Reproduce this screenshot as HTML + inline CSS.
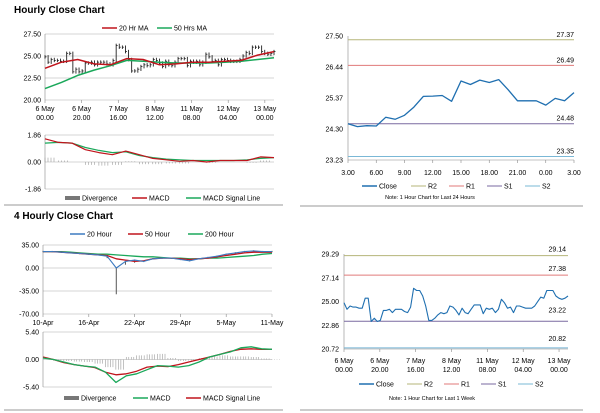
<!DOCTYPE html>
<html><head><meta charset="utf-8"><style>
html,body{margin:0;padding:0;background:#fff;width:600px;height:413px;overflow:hidden}
svg{display:block;font-family:"Liberation Sans",sans-serif}
</style></head><body>
<svg id="c" width="600" height="413" viewBox="0 0 600 413" xmlns="http://www.w3.org/2000/svg"></svg>
<script>
// ===== Data =====
const weekXLabels1 = ["6 May","6 May","7 May","8 May","11 May","12 May","13 May"];
const weekXLabels2 = ["00.00","20.00","16.00","12.00","08.00","04.00","00.00"];
const weekClose = [24.9,24.3,24.6,24.5,24.5,24.4,24.4,25.3,25.3,23.2,23.5,23.2,23.3,24.2,24.2,24.3,24.0,24.3,24.3,24.3,24.1,24.0,24.5,26.2,26.0,26.0,25.5,24.6,23.3,23.3,23.5,23.8,24.0,23.9,24.0,24.6,24.5,24.2,23.8,24.4,24.0,23.9,24.3,24.7,24.7,24.7,23.9,24.4,24.3,24.4,24.0,24.3,25.2,24.9,24.4,24.5,24.0,24.6,24.6,24.5,24.4,24.4,24.4,24.6,25.0,25.4,25.3,26.0,26.0,26.0,25.5,25.3,25.2,25.3,25.5];
const ma20 = [23.6,24.3,24.6,24.1,24.0,24.7,24.6,24.0,24.1,24.3,24.3,24.4,24.5,25.1,25.5];
const ma50 = [21.3,22.0,22.8,23.4,23.9,24.5,24.4,24.3,24.2,24.2,24.2,24.3,24.4,24.6,24.8];
const hMacd = [1.6,1.35,1.3,0.85,0.65,0.5,0.75,0.5,0.25,0.15,0.05,0.1,0.0,0.1,0.1,0.1,0.35,0.3];
const hSignal = [1.3,1.35,1.3,1.0,0.8,0.65,0.7,0.45,0.3,0.2,0.15,0.1,0.1,0.1,0.1,0.15,0.25,0.3];
const hDiv = [0.3,0.1,0,-0.2,-0.25,-0.2,0.05,-0.15,-0.15,-0.1,-0.1,0,-0.05,0,0,-0.05,0.1,0];
const dayXLabels = ["3.00","6.00","9.00","12.00","15.00","18.00","21.00","0.00","3.00"];
const dayClose = [24.48,24.38,24.41,24.40,24.70,24.63,24.77,25.05,25.42,25.43,25.45,25.25,25.95,25.83,25.98,25.90,26.00,25.65,25.27,25.27,25.27,25.12,25.35,25.27,25.55];
const dayLevels = [27.37,26.49,24.48,23.35];
const weekLevels = [29.14,27.38,23.22,20.82];
const levelNames = ["R2","R1","S1","S2"];
const fourXLabels = ["10-Apr","16-Apr","22-Apr","29-Apr","5-May","11-May"];
const h20 = [25,25,24,23,22,21,20,18,0,10,12,10,14,15,15,13,11,14,16,18,21,23,25,26,25,25];
const h50 = [25,25,24,23,22,21,20,19,14,12,10,11,14,15,15,14,13,14,15,17,19,21,23,24,24,24];
const h200 = [25,25,25,24,23,22,21,21,20,19,18,17,17,16,15,15,14,14,15,15,16,17,18,19,21,22];
const fourLow = [24,24,23,22,21,20,19,15,-40,5,8,9,13,14,14,12,10,13,15,17,20,22,24,25,24,24];
const fMacd = [0.3,0,-0.5,-1,-1.3,-1.5,-2.5,-4.5,-3.2,-2.8,-2,-1.2,-1.3,-1.5,-1.2,-0.5,0.5,1,1.5,2.3,2.5,2.1,2.0];
const fSignal = [0.5,0,-0.6,-1,-1.3,-1.6,-2.5,-3,-2.8,-2.3,-1.5,-1.3,-1.4,-1,-0.5,0,0.5,1,1.6,2,2.1,2.0,2.0];
const fDiv = [0,-0.2,-0.3,-0.4,-0.5,-0.8,-1.5,-2,0.5,0.8,1,1.1,0.3,-0.3,-0.2,0.3,0.6,0.8,0.6,0.6,0.5,0.2,0.1];

// ===== Helpers =====
const svg = document.getElementById('c');
const NS = "http://www.w3.org/2000/svg";
function mk(tag, attrs, parent){const e=document.createElementNS(NS,tag);for(const k in attrs)e.setAttribute(k,attrs[k]);(parent||svg).appendChild(e);return e;}
function scale(d0,d1,p0,p1){return v=>p0+(v-d0)/(d1-d0)*(p1-p0);}
function txt(x,y,s,size,anchor,weight,parent){const t=mk('text',{x:x,y:y,'font-size':size,'text-anchor':anchor||'start','font-weight':weight||'normal',fill:'#000'},parent);t.textContent=s;return t;}
function poly(vals,xf,yf,color,w,parent){const pts=vals.map((v,i)=>xf(i,vals.length).toFixed(1)+','+yf(v).toFixed(1)).join(' ');return mk('polyline',{points:pts,fill:'none',stroke:color,'stroke-width':w,'stroke-linejoin':'round'},parent);}
function hl(x1,x2,y,color,w,parent){return mk('line',{x1:x1,x2:x2,y1:y,y2:y,stroke:color,'stroke-width':w||0.6},parent);}
function vl(x,y1,y2,color,w,parent){return mk('line',{x1:x,x2:x,y1:y1,y2:y2,stroke:color,'stroke-width':w||0.6},parent);}
function legendLine(x,y,color,label,parent,w){hl(x,x+15,y,color,w||1.5,parent);txt(x+17,y+2.5,label,7,'start','normal',parent);}
function legendBar(x,y,label,parent){mk('rect',{x:x,y:y-2,width:15,height:4,fill:'#777'},parent);txt(x+17,y+2.5,label,7,'start','normal',parent);}

// Titles and separators
let t=txt(14,13,"Hourly Close Chart",10,'start','bold');


t=txt(14,219,"4 Hourly Close Chart",10,'start','bold');


let s=hl(4,283,205,'#999',1);

s=hl(300,583,206,'#999',1);

s=hl(4,283,410,'#999',1);

s=hl(300,583,410,'#999',1);


// ===== Panel A: hourly close with MAs =====
(function(){
  const g=mk('g',{});
  
  
  const X0=45,X1=274,y=scale(20,27.5,100,34);
  const xi=(i,n)=>X0+i/(n-1)*(X1-X0);
  [27.5,25,22.5,20].forEach(v=>{hl(X0,X1,y(v),'#aaa',0.6,g);txt(X0-4,y(v)+2.5,v.toFixed(2),7,'end','normal',g);});
  vl(X0,34,100,'#888',0.6,g);
  weekXLabels1.forEach((l,k)=>{const x=X0+k*20/125*(X1-X0);vl(x,100,103,'#888',0.6,g);txt(x,111,l,7,'middle','normal',g);txt(x,120,weekXLabels2[k],7,'middle','normal',g);});
  const bars=mk('g',{},g);
  
  weekClose.forEach((v,i)=>{const p=i?weekClose[i-1]:v;const x=xi(i,weekClose.length);vl(x,y(Math.max(p,v)+0.2),y(Math.min(p,v)-0.2),'#222',0.9,bars);hl(x,x+1.5,y(v),'#222',0.8,bars);});
  const l1=poly(ma50,xi,y,'#1aa85a',1.5,g);
  
  const l2=poly(ma20,xi,y,'#c0141c',1.5,g);
  
  legendLine(102,28,'#c0141c','20 Hr MA',g);
  legendLine(157,28,'#1aa85a','50 Hrs MA',g);
  // MACD
  const m=mk('g',{});
  
  
  const ym=scale(-1.86,1.86,189,135);
  [[1.86,'1.86'],[0,'0.00'],[-1.86,'-1.86']].forEach(([v,l])=>{hl(X0,X1,ym(v),'#aaa',0.6,m);txt(X0-4,ym(v)+2.5,l,7,'end','normal',m);});
  vl(X0,135,189,'#888',0.6,m);
  hDiv.forEach((v,i)=>{const x=xi(i,hDiv.length);for(let j=0;j<4;j++){vl(x+j*3,ym(0),ym(v),'#999',0.6,m);}});
  const a=poly(hSignal,xi,ym,'#1aa85a',1.2,m);
  
  const b=poly(hMacd,xi,ym,'#c0141c',1.2,m);
  
  legendBar(65,198,'Divergence',m);
  legendLine(132,198,'#c0141c','MACD',m);
  legendLine(186,198,'#1aa85a','MACD Signal Line',m);
})();

// ===== Panel B: last 24 hours =====
(function(){
  const g=mk('g',{});
  
  
  const X0=348,X1=574,y=scale(23.23,27.5,160,36);
  const xi=(i,n)=>X0+i/(n-1)*(X1-X0);
  ['27.50','26.44','25.37','24.30','23.23'].forEach(l=>txt(X0-5,y(+l)+2.5,l,7,'end','normal',g));
  vl(X0,36,160,'#888',0.6,g);hl(X0,X1,160,'#888',0.6,g);
  dayXLabels.forEach((l,k)=>{const x=X0+k*(X1-X0)/8;vl(x,160,163,'#888',0.6,g);txt(x,175,l,7,'middle','normal',g);});
  const cols=['#b5b57a','#e07a7a','#7a6aa0','#7ab8d6'];
  dayLevels.forEach((v,k)=>{const ln=hl(X0,X1,y(v),cols[k],1,g);txt(X1,y(v)-3,v.toFixed(2),7,'end','normal',g);});
  const c=poly(dayClose,xi,y,'#1f6fb0',1.3,g);
  
  legendLine(362,186,'#1f6fb0','Close',g);
  legendLine(411,186,cols[0],'R2',g,1);
  legendLine(449,186,cols[1],'R1',g,1);
  legendLine(487,186,cols[2],'S1',g,1);
  legendLine(525,186,cols[3],'S2',g,1);
  const n=txt(430,199,'Note: 1 Hour Chart for Last 24 Hours',5.5,'middle','normal',g);
  
})();

// ===== Panel C: 4 hourly =====
(function(){
  const g=mk('g',{});
  
  
  const X0=43,X1=272,y=scale(-70,35,314,245);
  const xi=(i,n)=>X0+i/(n-1)*(X1-X0);
  [[35,'35.00'],[0,'0.00'],[-35,'-35.00'],[-70,'-70.00']].forEach(([v,l])=>{hl(X0,X1,y(v),'#aaa',0.6,g);txt(X0-4,y(v)+2.5,l,7,'end','normal',g);});
  vl(X0,245,314,'#888',0.6,g);
  fourXLabels.forEach((l,k)=>{const x=X0+k*(X1-X0)/5;vl(x,314,317,'#888',0.6,g);txt(x,325,l,7,'middle','normal',g);});
  const bars=mk('g',{},g);
  
  fourLow.forEach((v,i)=>{const x=xi(i,fourLow.length);vl(x,y(h20[i]+1),y(v),'#555',1,bars);});
  const a=poly(h200,xi,y,'#1aa85a',1.3,g);
  
  const b=poly(h50,xi,y,'#c0141c',1.3,g);
  
  const c=poly(h20,xi,y,'#3c7ac0',1.1,g);
  
  legendLine(70,234,'#3c7ac0','20 Hour',g);
  legendLine(128,234,'#c0141c','50 Hour',g);
  legendLine(188,234,'#1aa85a','200 Hour',g);
  const m=mk('g',{});
  
  
  const ym=scale(-5.4,5.4,387,332);
  [[5.4,'5.40'],[0,'0.00'],[-5.4,'-5.40']].forEach(([v,l])=>{hl(X0,X1,ym(v),'#aaa',0.6,m);txt(X0-4,ym(v)+2.5,l,7,'end','normal',m);});
  vl(X0,332,387,'#888',0.6,m);
  fDiv.forEach((v,i)=>{const x=xi(i,fDiv.length);for(let j=0;j<4;j++){vl(x+j*2.5,ym(0),ym(v),'#999',0.6,m);}});
  const d=poly(fSignal,xi,ym,'#c0141c',1.3,m);
  
  const e=poly(fMacd,xi,ym,'#1aa85a',1.3,m);
  
  legendBar(64,398,'Divergence',m);
  legendLine(133,398,'#1aa85a','MACD',m);
  legendLine(186,398,'#c0141c','MACD Signal Line',m);
})();

// ===== Panel D: last 1 week =====
(function(){
  const g=mk('g',{});
  
  
  const X0=344,X1=568,y=scale(20.72,29.29,349,254);
  const xi=(i,n)=>X0+i/(n-1)*(X1-X0);
  ['29.29','27.14','25.00','22.86','20.72'].forEach(l=>txt(X0-5,y(+l)+2.5,l,7,'end','normal',g));
  vl(X0,254,349,'#888',0.6,g);hl(X0,X1,349,'#888',0.6,g);
  weekXLabels1.forEach((l,k)=>{const x=X0+k*20/125*(X1-X0);vl(x,349,352,'#888',0.6,g);txt(x,363,l,7,'middle','normal',g);txt(x,372,weekXLabels2[k],7,'middle','normal',g);});
  const cols=['#b5b57a','#e07a7a','#7a6aa0','#7ab8d6'];
  const off=[-4,-4,-9,-7];
  weekLevels.forEach((v,k)=>{const ln=hl(X0,X1,y(v),cols[k],1,g);txt(X1-2,y(v)+off[k],v.toFixed(2),7,'end','normal',g);});
  const c=poly(weekClose,xi,y,'#1f6fb0',1.1,g);
  
  legendLine(359,384,'#1f6fb0','Close',g);
  legendLine(407,384,cols[0],'R2',g,1);
  legendLine(444,384,cols[1],'R1',g,1);
  legendLine(481,384,cols[2],'S1',g,1);
  legendLine(518,384,cols[3],'S2',g,1);
  const n=txt(432,400,'Note: 1 Hour Chart for Last 1 Week',5.5,'middle','normal',g);
  
})();
</script>
</body></html>
